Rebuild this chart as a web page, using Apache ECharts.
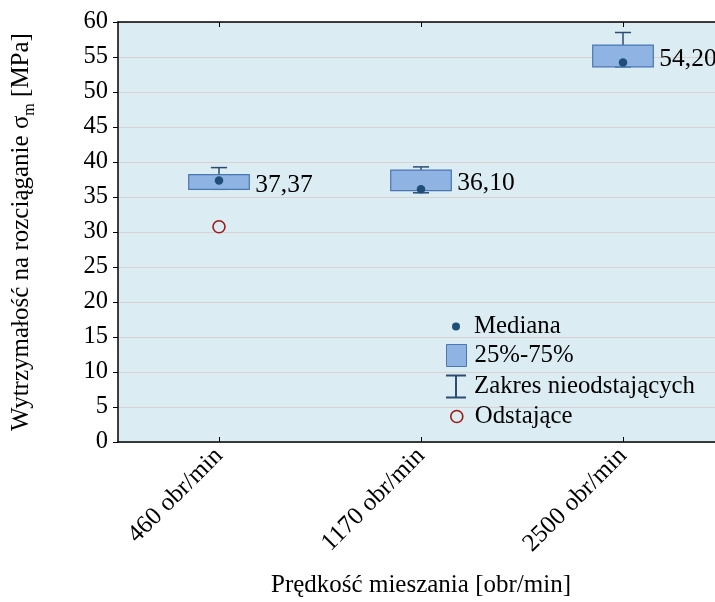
<!DOCTYPE html>
<html>
<head>
<meta charset="utf-8">
<script src="https://cdn.jsdelivr.net/npm/echarts@6/dist/echarts.min.js"></script>
<style>
  html, body { margin: 0; padding: 0; background: #fff; }
  #chart { width: 715px; height: 602px; }
</style>
</head>
<body>
<div id="chart"></div>
<script>
// ---- data ----
var categories = ['460 obr/min', '1170 obr/min', '2500 obr/min'];
var medians = [37.37, 36.10, 54.20];
var medianLabels = ['37,37', '36,10', '54,20'];
var q1 = [36.1, 35.9, 53.6];
var q3 = [38.2, 38.85, 56.7];
var whiskerLow = [36.1, 35.6, 53.6];
var whiskerHigh = [39.2, 39.3, 58.5];
var outliers = [[0, 30.75]];
var yTicks = { min: 0, max: 60, interval: 5 };

var FONT = 'Liberation Serif';
var boxFill = '#8fb4e3', boxBorder = '#4a76b2';
var whiskerColor = '#2b4c73', medianColor = '#1f4e7a', outlierColor = '#9e1a1a';

var boxData = categories.map(function (c, i) { return [i, q1[i], q3[i], i]; });
var whiskerData = categories.map(function (c, i) { return [i, whiskerLow[i], q1[i], q3[i], whiskerHigh[i]]; });
var medianData = categories.map(function (c, i) { return [i, medians[i]]; });

var chart = echarts.init(document.getElementById('chart'), null, { renderer: 'canvas' });

function legendBlock(name, icon, w, h, left, top, padLeft, itemStyle) {
  return {
    data: [{ name: name, icon: icon, itemStyle: itemStyle }],
    left: left, top: top, orient: 'vertical',
    itemWidth: w, itemHeight: h, selectedMode: false, padding: 0,
    textStyle: { fontFamily: FONT, fontSize: 24.8, color: '#000', lineHeight: 24, padding: [0, 0, 0, padLeft] }
  };
}

var option = {
  animation: false,
  backgroundColor: '#ffffff',
  grid: { left: 118, top: 22, right: -9, bottom: 160, show: true, backgroundColor: '#dbedf3', borderWidth: 0,
          containLabel: false, outerBoundsMode: 'none' },
  legend: [
    legendBlock('Mediana', 'circle', 8, 8, 452, 314, 9, { color: medianColor }),
    legendBlock('25%-75%', 'rect', 20, 22, 446, 343, 3, { color: boxFill, borderColor: boxBorder, borderWidth: 1 }),
    legendBlock('Zakres nieodstających', 'path://M0,0H20V2H11V22H20V24H0V22H9V2H0Z', 20, 24, 446, 374, 3, { color: whiskerColor }),
    legendBlock('Odstające', 'circle', 12, 12, 450, 404, 7, { color: 'rgba(0,0,0,0)', borderColor: outlierColor, borderWidth: 1.6 })
  ],
  xAxis: [
    {
      type: 'category', data: categories, boundaryGap: true, position: 'bottom',
      axisLine: { show: true, lineStyle: { color: '#000', width: 1.5 } },
      axisTick: { show: true, inside: true, alignWithLabel: true, length: 5, lineStyle: { color: '#000' } },
      axisLabel: { rotate: 45, fontFamily: FONT, fontSize: 25, color: '#000', margin: 10 },
      splitLine: { show: false },
      name: 'Prędkość mieszania [obr/min]', nameLocation: 'middle', nameGap: 131,
      nameTextStyle: { fontFamily: FONT, fontSize: 25, color: '#000' }
    },
    {
      type: 'category', data: categories, boundaryGap: true, position: 'top',
      axisLine: { show: true, lineStyle: { color: '#000', width: 1.5 } },
      axisTick: { show: true, inside: true, alignWithLabel: true, length: 5, lineStyle: { color: '#000' } },
      axisLabel: { show: false }, splitLine: { show: false }
    }
  ],
  yAxis: {
    type: 'value', min: yTicks.min, max: yTicks.max, interval: yTicks.interval,
    axisLine: { show: true, lineStyle: { color: '#000', width: 1.5 } },
    axisTick: { show: true, inside: false, length: 5, lineStyle: { color: '#000' } },
    axisLabel: { fontFamily: FONT, fontSize: 24.5, color: '#000', margin: 10 },
    splitLine: { show: true, lineStyle: { color: '#d9d2d5', width: 1.2 } },
    name: '{a|Wytrzymałość na rozciąganie σ}{s|m}{a| [MPa]}',
    nameLocation: 'middle', nameGap: 84,
    nameTextStyle: {
      fontFamily: FONT, color: '#000',
      rich: {
        a: { fontFamily: FONT, fontSize: 25, color: '#000', lineHeight: 30, verticalAlign: 'bottom' },
        s: { fontFamily: FONT, fontSize: 16, color: '#000', lineHeight: 30, verticalAlign: 'bottom', padding: [0, 0, -4, 0] }
      }
    }
  },
  series: [
    {
      name: 'Zakres nieodstających', type: 'custom', data: whiskerData, z: 2,
      encode: { x: 0, y: [1, 2, 3, 4] },
      renderItem: function (params, api) {
        var x = api.value(0);
        var pLow = api.coord([x, api.value(1)]);
        var pQ1 = api.coord([x, api.value(2)]);
        var pQ3 = api.coord([x, api.value(3)]);
        var pHigh = api.coord([x, api.value(4)]);
        var band = api.size([1, 0])[0];
        var cw = band * 0.08;
        var st = { stroke: whiskerColor, lineWidth: 1.5 };
        return {
          type: 'group', children: [
            { type: 'line', shape: { x1: pHigh[0], y1: pHigh[1], x2: pQ3[0], y2: pQ3[1] }, style: st },
            { type: 'line', shape: { x1: pHigh[0] - cw / 2, y1: pHigh[1], x2: pHigh[0] + cw / 2, y2: pHigh[1] }, style: st },
            { type: 'line', shape: { x1: pLow[0], y1: pLow[1], x2: pQ1[0], y2: pQ1[1] }, style: st },
            { type: 'line', shape: { x1: pLow[0] - cw / 2, y1: pLow[1], x2: pLow[0] + cw / 2, y2: pLow[1] }, style: st }
          ]
        };
      }
    },
    {
      name: '25%-75%', type: 'custom', data: boxData, z: 3,
      encode: { x: 0, y: [1, 2] },
      renderItem: function (params, api) {
        var x = api.value(0);
        var pQ1 = api.coord([x, api.value(1)]);
        var pQ3 = api.coord([x, api.value(2)]);
        var band = api.size([1, 0])[0];
        var bw = band * 0.3;
        var idx = api.value(3);
        return {
          type: 'group', children: [
            {
              type: 'rect',
              shape: { x: pQ1[0] - bw / 2, y: pQ3[1], width: bw, height: pQ1[1] - pQ3[1] },
              style: { fill: boxFill, stroke: boxBorder, lineWidth: 1.2 }
            },
            {
              type: 'text',
              style: {
                x: pQ1[0] + bw / 2 + 6, y: (pQ1[1] + pQ3[1]) / 2 + 3,
                text: medianLabels[idx], fontFamily: FONT, fontSize: 25.5, fill: '#000',
                textAlign: 'left', textVerticalAlign: 'middle'
              },
              z2: 10
            }
          ]
        };
      }
    },
    {
      name: 'Mediana', type: 'scatter', data: medianData, z: 4,
      symbol: 'circle', symbolSize: 8.5,
      itemStyle: { color: medianColor, opacity: 1 }
    },
    {
      name: 'Odstające', type: 'scatter', data: outliers, z: 4,
      symbol: 'circle', symbolSize: 12,
      itemStyle: { color: 'rgba(0,0,0,0)', borderColor: outlierColor, borderWidth: 1.6, opacity: 1 }
    }
  ]
};
chart.setOption(option);
</script>
</body>
</html>
